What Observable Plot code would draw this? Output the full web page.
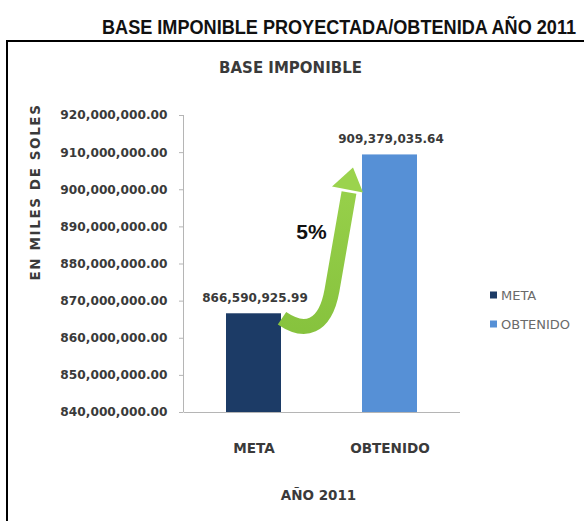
<!DOCTYPE html>
<html><head><meta charset="utf-8">
<script src="https://cdn.jsdelivr.net/npm/d3@7"></script>
<script src="https://cdn.jsdelivr.net/npm/@observablehq/plot@0.6"></script>
<style>
body{margin:0;background:#fff;}
#wrap{position:relative;width:584px;height:521px;overflow:hidden;background:#fff;}
#title{position:absolute;left:0;top:0;width:584px;height:41px;
  font-family:"Liberation Sans Narrow","Arial Narrow","Liberation Sans",sans-serif;font-weight:bold;font-size:20px;line-height:20px;color:#111;}
#title span{position:absolute;left:339px;top:17px;transform:translateX(-50%) scaleX(0.905);white-space:nowrap;}
#box{position:absolute;left:6px;top:40px;width:700px;height:600px;border-left:2.5px solid #000;border-top:2.5px solid #000;pointer-events:none;}
#chart{position:absolute;left:0;top:41px;}
</style></head>
<body>
<div id="wrap">
  <div id="title"><span>BASE IMPONIBLE PROYECTADA/OBTENIDA AÑO 2011</span></div>
  <div id="chart"></div>
  <div id="box"></div>
</div>
<script>
// ---- data ----
const categories = ["META", "OBTENIDO"];
const values = [866590925.99, 909379035.64];
const valueLabels = ["866,590,925.99", "909,379,035.64"];
const barColors = ["#1C3B66", "#5690D6"];
const yTicks = [840e6, 850e6, 860e6, 870e6, 880e6, 890e6, 900e6, 910e6, 920e6];
const yDomain = [840e6, 920e6];
const growthLabel = ["5%"];
const chartTitle = ["BASE IMPONIBLE"];
const yTitle = ["EN MILES DE SOLES"];
const xTitle = ["AÑO 2011"];

const rows = categories.map((c, i) => ({cat: c, value: values[i], label: valueLabels[i]}));
const FONT = "DejaVu Sans, sans-serif";
const TXT = "#3a3a3a";

// axis lines (left and bottom) drawn from the scales
function axisLines(index, scales, v, dims) {
  const {y} = scales;
  const g = d3.create("svg:g").attr("stroke", "#b5b5b5").attr("stroke-width", 1);
  const xl = dims.marginLeft + 0.5;
  g.append("line").attr("x1", xl).attr("x2", xl).attr("y1", y(yDomain[1])).attr("y2", y(yDomain[0]));
  g.append("line").attr("x1", xl).attr("x2", dims.width - dims.marginRight)
    .attr("y1", y(yDomain[0]) + 0.5).attr("y2", y(yDomain[0]) + 0.5);
  return g.node();
}

// curved growth arrow between the bars
function growthArrow(index, scales, v, dims) {
  const {x, y} = scales;
  const bw = x.bandwidth();
  const x0 = x(categories[0]) + bw;
  const yA = y(values[0]);
  const yB = y(values[1]);
  const g = d3.create("svg:g");
  const defs = g.append("defs");
  const lg = defs.append("linearGradient").attr("id", "grn").attr("gradientUnits", "userSpaceOnUse")
    .attr("x1", 0).attr("y1", yB).attr("x2", 0).attr("y2", yA + 25);
  lg.append("stop").attr("offset", "0%").attr("stop-color", "#9bd34d");
  lg.append("stop").attr("offset", "100%").attr("stop-color", "#86c23d");
  const path = `M${x0 + 1},${yA + 5} C${x0 + 23},${yA + 20} ${x0 + 44},${yA + 16} ${x0 + 51},${yA - 23} L${x0 + 68},${yB + 38}`;
  g.append("path").attr("d", path).attr("fill", "none").attr("stroke", "url(#grn)")
    .attr("stroke-width", 15).attr("stroke-linecap", "butt").attr("stroke-linejoin", "round");
  g.append("path")
    .attr("d", `M${x0 + 72},${yB + 13} L${x0 + 51},${yB + 32} L${x0 + 82},${yB + 38} Z`)
    .attr("fill", "#9bd34d");
  return g.node();
}

// rotated y title (with letter spacing)
function yTitleMark(index, scales, v, dims) {
  const g = d3.create("svg:g");
  g.append("text").attr("transform", "translate(35,151) rotate(-90)")
    .attr("text-anchor", "middle").attr("dy", "0.36em")
    .attr("font-family", FONT).attr("font-weight", "bold").attr("font-size", 13.5)
    .attr("letter-spacing", "1.6px").attr("fill", TXT).text(yTitle[0]);
  return g.node();
}

// legend
function legend(index, scales, v, dims) {
  const g = d3.create("svg:g");
  const lx = 490, ly = [254, 283];
  categories.forEach((c, i) => {
    g.append("rect").attr("x", lx).attr("y", ly[i] - 3.5).attr("width", 7).attr("height", 7).attr("fill", barColors[i]);
    g.append("text").attr("x", lx + 11).attr("y", ly[i]).attr("dy", "0.36em").attr("text-anchor", "start")
      .attr("font-family", FONT).attr("font-size", 13).attr("fill", "#6a6a6a").text(c);
  });
  return g.node();
}

const chart = Plot.plot({
  width: 584,
  height: 480,
  marginLeft: 183,
  marginRight: 124,
  marginTop: 74,
  marginBottom: 109,
  style: {background: "transparent", overflow: "visible"},
  x: {domain: categories, paddingInner: 0.596, paddingOuter: 0.316, axis: null},
  y: {domain: yDomain, axis: null},
  color: {domain: categories, range: barColors},
  marks: [
    axisLines,
    Plot.barY(rows, {x: "cat", y1: () => yDomain[0], y2: "value", fill: "cat"}),
    growthArrow,
    Plot.text(rows, {x: "cat", y: "value", text: "label", dy: -16, dx: 1,
      fontFamily: FONT, fontWeight: "bold", fontSize: 12, fill: TXT}),
    Plot.axisY({ticks: yTicks, tickSize: 4, tickPadding: 12, tickFormat: d3.format(",.2f"),
      label: null, stroke: "#b5b5b5", fontFamily: FONT, fontWeight: "bold", fontSize: 12.2, fill: TXT}),
    Plot.axisX({tickSize: 0, tickPadding: 31, label: null,
      fontFamily: FONT, fontWeight: "bold", fontSize: 13.6, fill: TXT}),
    Plot.text(growthLabel, {frameAnchor: "middle", dx: 311 - 321.5, dy: 191 - 222.5,
      fontFamily: "Liberation Sans, Arial, sans-serif", fontWeight: "bold", fontSize: 21, fill: "#111"}),
    Plot.text(chartTitle, {frameAnchor: "top", lineAnchor: "middle", dx: 290 - 321.5, dy: 27 - 74,
      fontFamily: FONT, fontWeight: "bold", fontSize: 15, fill: TXT}),
    Plot.text(xTitle, {frameAnchor: "bottom", lineAnchor: "middle", dx: 318 - 321.5, dy: 454 - 371,
      fontFamily: FONT, fontWeight: "bold", fontSize: 13.5, fill: TXT}),
    yTitleMark,
    legend
  ]
});
document.getElementById("chart").appendChild(chart);
</script>
</body></html>
